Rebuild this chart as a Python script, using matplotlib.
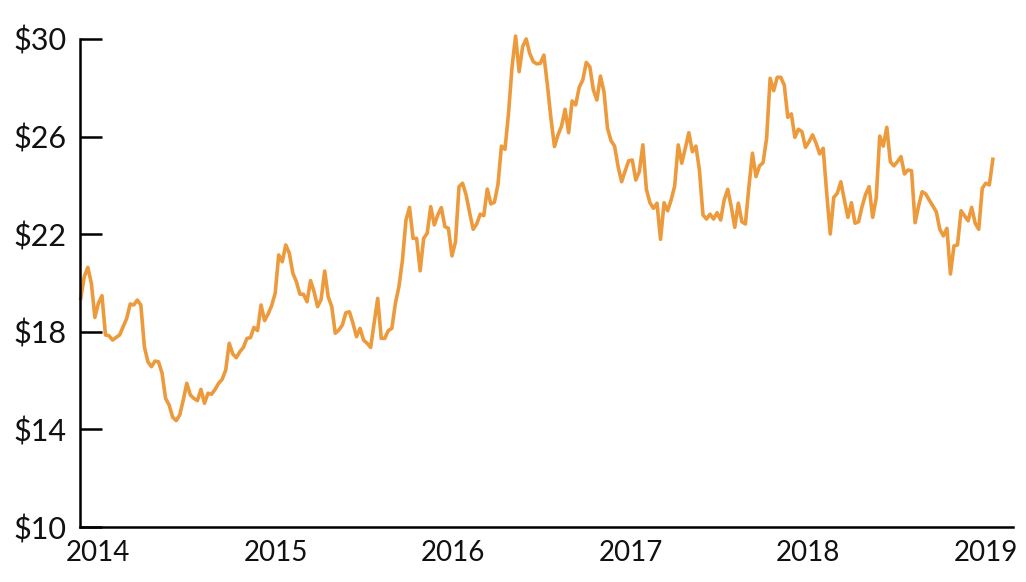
#---Weekly price line chart, 2014-2019---------------------------------------------------------
import matplotlib.pyplot as plt
import numpy as np

#---Data (weekly closing price)---------------------------------------------------------------
price = [19.37, 20.26, 20.64, 19.99, 18.59, 19.17, 19.48, 17.87, 17.84, 17.66,
         17.77, 17.87, 18.21, 18.55, 19.14, 19.10, 19.30, 19.10, 17.39, 16.77,
         16.57, 16.80, 16.77, 16.30, 15.27, 15.00, 14.50, 14.36, 14.59, 15.20,
         15.89, 15.41, 15.27, 15.18, 15.64, 15.07, 15.48, 15.44, 15.64, 15.89,
         16.05, 16.43, 17.53, 17.09, 16.94, 17.18, 17.36, 17.73, 17.76, 18.18,
         18.05, 19.10, 18.46, 18.73, 19.07, 19.58, 21.15, 20.87, 21.56, 21.22,
         20.40, 20.05, 19.54, 19.54, 19.23, 20.10, 19.64, 19.03, 19.33, 20.49,
         19.44, 19.03, 17.94, 18.07, 18.28, 18.78, 18.82, 18.35, 17.80, 18.14,
         17.66, 17.53, 17.36, 18.35, 19.37, 17.73, 17.73, 18.05, 18.14, 19.17,
         19.85, 20.94, 22.58, 23.10, 21.83, 21.83, 20.50, 21.83, 22.04, 23.13,
         22.38, 22.79, 23.09, 22.31, 22.24, 21.11, 21.69, 23.95, 24.09, 23.61,
         22.88, 22.20, 22.42, 22.82, 22.76, 23.85, 23.24, 23.31, 24.02, 25.61,
         25.48, 26.95, 28.86, 30.12, 28.66, 29.69, 30.00, 29.41, 29.07, 28.98,
         29.00, 29.34, 28.11, 26.75, 25.59, 26.07, 26.43, 27.12, 26.16, 27.46,
         27.30, 28.02, 28.32, 29.04, 28.86, 27.91, 27.50, 28.48, 27.84, 26.34,
         25.83, 25.61, 24.77, 24.15, 24.60, 25.01, 25.04, 24.22, 24.56, 25.66,
         23.84, 23.29, 23.06, 23.27, 21.79, 23.29, 22.96, 23.40, 23.98, 25.66,
         24.91, 25.52, 26.16, 25.38, 25.61, 24.63, 22.79, 22.62, 22.82, 22.62,
         22.88, 22.58, 23.40, 23.84, 23.13, 22.28, 23.27, 22.51, 22.42, 23.95,
         25.32, 24.36, 24.80, 24.93, 25.93, 28.39, 27.88, 28.43, 28.43, 28.11,
         26.79, 26.93, 25.97, 26.30, 26.20, 25.56, 25.79, 26.07, 25.73, 25.29,
         25.52, 23.68, 22.01, 23.51, 23.68, 24.15, 23.40, 22.69, 23.29, 22.45,
         22.51, 23.13, 23.63, 23.95, 22.69, 23.47, 26.02, 25.61, 26.38, 24.97,
         24.80, 24.97, 25.18, 24.47, 24.63, 24.60, 22.47, 23.16, 23.74, 23.65,
         23.40, 23.16, 22.92, 22.20, 21.93, 22.24, 20.37, 21.52, 21.56, 22.96,
         22.75, 22.55, 23.10, 22.45, 22.20, 23.88, 24.09, 24.02, 25.07]
years = ['2014', '2015', '2016', '2017', '2018', '2019']
ylevels = [10, 14, 18, 22, 26, 30]

#---Figure set-up-----------------------------------------------------------------------------
plt.rcParams['font.family'] = ['Lato', 'DejaVu Sans']
fg = plt.figure(figsize=(10.26, 5.82), dpi=100)
ax = fg.add_axes([0.078, 0.0945, 0.909, 0.8385])

week = np.arange(len(price))
ax.plot(week, price, color='#EC9A3C', linewidth=2.6, clip_on=False, solid_joinstyle='round')

#---Axes--------------------------------------------------------------------------------------
ax.set_xlim(-0.2, 263.6)
ax.set_ylim(10, 30)
ax.set_yticks(ylevels)
ax.set_yticklabels(['$%d' % v for v in ylevels], fontsize=22)
ax.set_xticks(4.9 + 50.2 * np.arange(len(years)))
ax.set_xticklabels(years, fontsize=20)

for side in ['top', 'right']:
    ax.spines[side].set_visible(False)
for side in ['left', 'bottom']:
    ax.spines[side].set_linewidth(1.8)
    ax.spines[side].set_color('black')

ax.tick_params(axis='y', direction='in', length=16, width=1.8, pad=10, color='black', labelcolor='#111111')
ax.tick_params(axis='x', length=0, pad=9, labelcolor='#111111')

plt.savefig('out.png', dpi=100)
